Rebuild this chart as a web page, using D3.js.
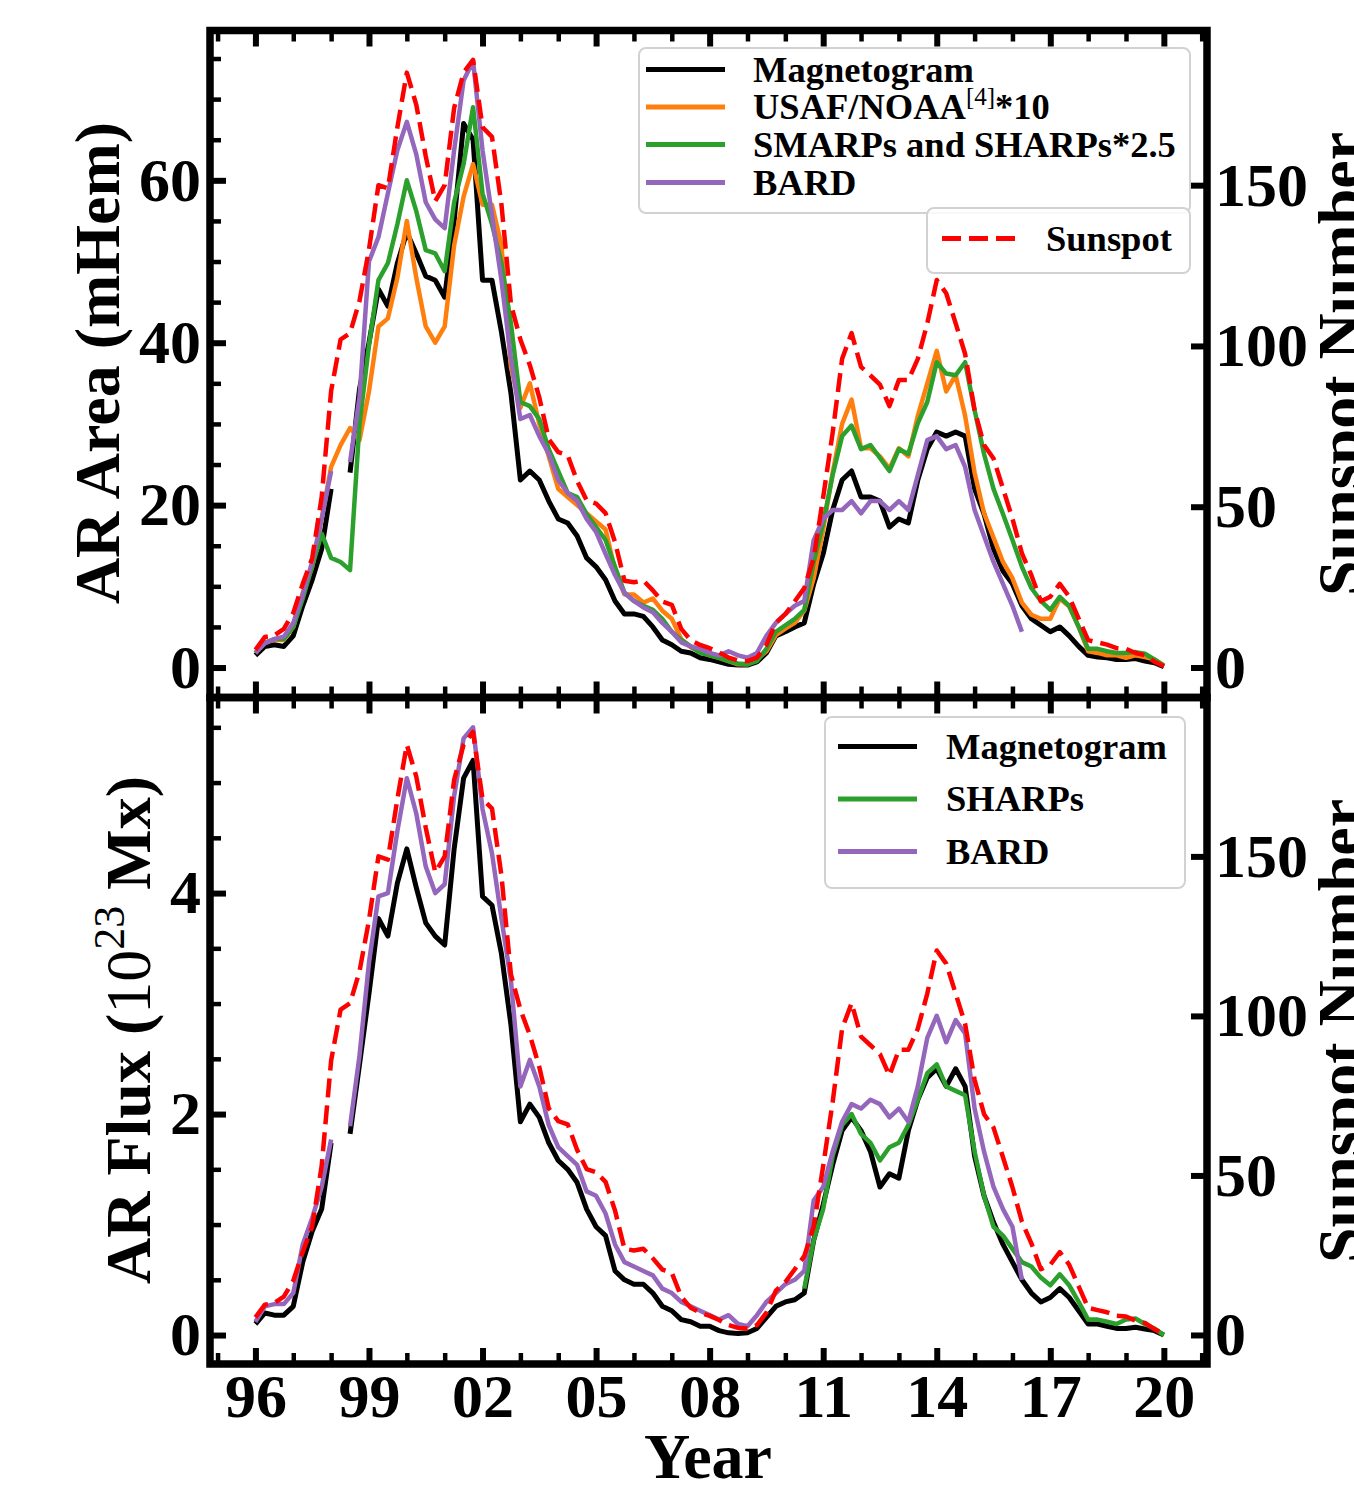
<!DOCTYPE html>
<html>
<head>
<meta charset="utf-8">
<script src="https://cdn.jsdelivr.net/npm/d3@7"></script>
<style>
body { margin: 0; background: #fff; }
text { font-family: "Liberation Serif", "Times New Roman", serif; font-weight: bold; fill: #000; }
.tick text { font-size: 62px; }
.reg { font-weight: normal; }
</style>
</head>
<body>
<script>
// quarter-year sampling, 1996.0 .. 2020.0
const years = d3.range(97).map(i => 1996 + i / 4);

// sunspot number (right axes, both panels)
const sunspot = [
  5.5, 9.5, 10, 12,
  17, 26, 34, 53,
  86, 102, 104, 114,
  130, 150, 149, 168,
  185, 175, 159, 145,
  150, 174, 185, 189,
  168, 165, 144, 113,
  102, 94, 84, 71,
  67, 66, 58, 52,
  51, 48, 39, 27,
  26.5, 27, 24, 20.5,
  19.5, 12, 8.5, 7,
  6, 4.7, 3.1, 2.2,
  2, 3.1, 7, 13.9,
  16.6, 20.6, 24.7, 34,
  53, 73, 96, 104,
  93.5, 90.8, 88, 81.3,
  89.4, 89.4, 96, 107,
  120.5, 116.4, 107, 97.5,
  80, 69.2, 65, 55.7,
  46.3, 35.5, 28.7, 20.6,
  22, 26, 22, 15.2,
  8.5, 7.8, 7.1, 6,
  5.8, 4.5, 3.8, 1.8,
  0.4
];

// AR area (mHem)
const areaMag = [
  1.5, 2.6, 2.8, 2.6,
  3.9, 7.6, 10.8, 14.6,
  22, null, 24, 34.3,
  40, 46.6, 44.5, 49.8,
  53.6, 51, 48.2, 47.7,
  45.6, 55, 67, 65,
  47.7, 47.7, 41.3, 33.8,
  23.1, 24.2, 23.1, 20.5,
  18.3, 17.8, 16.2, 13.5,
  12.4, 10.8, 8.2, 6.6,
  6.6, 6.3, 5, 3.4,
  2.8, 2, 1.8, 1.2,
  1, 0.7, 0.4, 0.3,
  0.3, 0.7, 1.8, 3.9,
  4.4, 5, 5.5, 10.3,
  14, 19.4, 23.1, 24.2,
  21, 21, 20.5, 17.3,
  18.3, 17.8, 23.1, 26.9,
  29, 28.5, 29, 28.5,
  22, 18.9, 14.6, 11.9,
  10.3, 7.6, 6, 5.2,
  4.4, 5, 3.9, 2.6,
  1.5, 1.3, 1.2, 1,
  1, 1.1, 0.8, 0.6,
  0.1
];

const areaNoaa = [
  1.8, 3.1, 3.4, 3.4,
  5, 9.2, 12.4, 18.3,
  24.7, 27.4, 29.5, 28,
  34, 42, 43, 48,
  55, 48, 42, 40,
  42, 52, 58, 62,
  57, 57, 52, 37,
  32, 35, 30, 26,
  22, 21, 20, 19,
  18, 17, 12, 9,
  9, 8, 8.5, 7,
  6, 3.5, 2.5, 2,
  1.5, 1.2, 0.8, 0.4,
  0.4, 1, 2, 4,
  4.8, 5.5, 7, 11,
  17, 24, 30, 33,
  27, 27, 26, 24.5,
  27, 26, 31, 35,
  39, 34, 36, 31,
  24, 19, 16, 13,
  11, 8, 6.5, 6,
  6, 8.5, 7.5, 5,
  2, 1.8, 1.5, 1.5,
  1.2, 1.5, 1.3, 1,
  0.3
];

const areaSmarps = [
  1.8, 3, 3.5, 3.5,
  5, 8.5, 12.5, 16.5,
  13.5, 13, 12, 30,
  39.7, 47.7, 49.8, 54.6,
  60, 56.2, 51.4, 51,
  48.8, 57.3, 62, 69,
  58.4, 54.6, 49.8, 42.4,
  32.7, 32.2, 30.6, 26.9,
  24.2, 21.5, 21, 18.9,
  17.3, 15.7, 12.4, 9.2,
  8.2, 7.6, 7.1, 6,
  4.4, 3.4, 2.6, 1.8,
  1.5, 1.2, 0.8, 0.5,
  0.4, 0.8, 2.3, 4.4,
  5.2, 6, 7.1, 13,
  17.8, 23.7, 28.5, 29.8,
  26.9, 27.4, 25.8, 24.2,
  26.9, 26.3, 30.1, 32.7,
  37.6, 36.2, 36, 37.6,
  31.7, 26.3, 22, 18.9,
  15.7, 12.4, 9.8, 8.2,
  7.1, 8.7, 7.6, 5,
  2.3, 2.3, 2, 1.8,
  1.8, 1.9, 1.7, 1,
  0.2
];

// BARD stops at 2016.25
const areaBard = [
  1.8, 3, 3.5, 3.8,
  5.5, 9, 13, 18.3,
  24.2, null, 25.3, 33.3,
  50, 53, 58.4, 63.7,
  67.2, 63.2, 57.3, 55.2,
  54.1, 63.7, 72.3, 74.7,
  63.7, 55.7, 47.7, 38.1,
  30.6, 31.1, 28.5, 26.3,
  23.1, 21.5, 20.5, 18.3,
  16.7, 14, 11.4, 9.2,
  8.2, 7.4, 6.8, 5.5,
  4.4, 3.1, 2.6, 2.3,
  1.8, 1.5, 2, 1.5,
  1.2, 1.8, 3.9, 5.5,
  6.6, 7.6, 8.2, 15.7,
  18.3, 19.4, 19.4, 20.5,
  19, 20.5, 20.5, 19.4,
  20.5, 19.4, 23.7, 28,
  28.5, 26.9, 27.4, 24.7,
  19.4, 16.2, 13, 10.3,
  7.6, 4.4
];

// AR flux (1e23 Mx)
const fluxMag = [
  0.1, 0.2, 0.18, 0.18,
  0.26, 0.66, 0.94, 1.14,
  1.74, null, 1.82, 2.45,
  3.09, 3.77, 3.61, 4.09,
  4.4, 4.05, 3.73, 3.61,
  3.53, 4.4, 5.04, 5.2,
  3.97, 3.89, 3.45, 2.81,
  1.93, 2.09, 1.97, 1.74,
  1.58, 1.5, 1.38, 1.14,
  0.98, 0.9, 0.58, 0.5,
  0.46, 0.46, 0.38, 0.26,
  0.22, 0.14, 0.12, 0.08,
  0.08, 0.04, 0.02, 0.015,
  0.02, 0.06, 0.16, 0.26,
  0.3, 0.32, 0.38, 0.86,
  1.18, 1.54, 1.85, 1.97,
  1.85, 1.66, 1.34, 1.46,
  1.42, 1.85, 2.13, 2.33,
  2.41, 2.25, 2.41, 2.25,
  1.62, 1.26, 1.02, 0.82,
  0.66, 0.5, 0.38, 0.3,
  0.34, 0.42, 0.34, 0.22,
  0.1, 0.1, 0.08, 0.06,
  0.06, 0.07, 0.055, 0.04,
  0
];

// SHARPs starts at 2010.5
const fluxSharps = [
  0.42, 0.86,
  1.14, 1.62, 1.9, 2,
  1.82, 1.74, 1.58, 1.7,
  1.74, 1.9, 2.13, 2.37,
  2.45, 2.25, 2.21, 2.17,
  1.66, 1.26, 0.98, 0.9,
  0.78, 0.66, 0.62, 0.52,
  0.45, 0.55, 0.45, 0.3,
  0.14, 0.14, 0.12, 0.1,
  0.14, 0.15, 0.1, 0.06,
  0
];

const fluxBard = [
  0.12, 0.26, 0.28, 0.28,
  0.38, 0.82, 1.06, 1.34,
  1.77, null, 1.89, 2.53,
  3.37, 3.97, 4, 4.56,
  5.04, 4.72, 4.24, 4,
  4.08, 4.88, 5.4, 5.5,
  4.76, 4.36, 3.77, 3.21,
  2.25, 2.49, 2.25, 1.9,
  1.7, 1.62, 1.54, 1.3,
  1.26, 1.1, 0.82, 0.66,
  0.62, 0.58, 0.54, 0.42,
  0.38, 0.3, 0.26, 0.22,
  0.18, 0.14, 0.18, 0.1,
  0.08, 0.18, 0.3, 0.38,
  0.46, 0.5, 0.58, 1.22,
  1.34, 1.66, 1.93, 2.09,
  2.05, 2.13, 2.09, 1.97,
  2.05, 1.93, 2.25, 2.69,
  2.89, 2.65, 2.85, 2.73,
  2.05, 1.66, 1.34, 1.14,
  0.98, 0.5
];

const xMajor = [1996, 1999, 2002, 2005, 2008, 2011, 2014, 2017, 2020];
const xMinor = d3.range(1995, 2022);

function pair(vals, startYear) {
  const i0 = years.indexOf(startYear);
  return vals.map((v, i) => [years[i0 + i], v]);
}

const W = 1354, H = 1487;
const L = 210, R = 1207;
const C = { black: "#000", orange: "#ff7f0e", green: "#2ca02c", purple: "#9467bd", red: "#ff0000" };

const svg = d3.select("body").append("svg").attr("width", W).attr("height", H);
const x = d3.scaleLinear().domain([1994.8, 2021.14]).range([L, R]);

function panel(o) {
  const g = svg.append("g");
  const yL = d3.scaleLinear().domain(o.leftDomain).range([o.bottom, o.top]);
  const yR = d3.scaleLinear().domain(o.rightDomain).range([o.bottom, o.top]);

  const clipId = "clip" + o.id;
  svg.append("clipPath").attr("id", clipId)
    .append("rect").attr("x", L).attr("y", o.top).attr("width", R - L).attr("height", o.bottom - o.top);

  const lines = g.append("g").attr("clip-path", `url(#${clipId})`);
  for (const s of o.series) {
    const ys = s.right ? yR : yL;
    lines.append("path")
      .datum(pair(s.values, s.start || 1996))
      .attr("fill", "none")
      .attr("stroke", s.color)
      .attr("stroke-width", s.width || 4.5)
      .attr("stroke-dasharray", s.dash || null)
      .attr("stroke-linejoin", "round")
      .attr("d", d3.line().defined(d => d[1] != null).x(d => x(d[0])).y(d => ys(d[1])));
  }

  const axes = [
    d3.axisLeft(yL).tickValues(o.leftMajor).tickSize(-16).tickPadding(9).tickFormat(o.leftFormat),
    d3.axisLeft(yL).tickValues(o.leftMinor).tickSize(-11).tickFormat(""),
  ];
  for (const a of axes) {
    g.append("g").attr("transform", `translate(${L},0)`).call(a);
  }
  g.append("g").attr("transform", `translate(${R},0)`)
    .call(d3.axisRight(yR).tickValues([0, 50, 100, 150]).tickSize(-16).tickPadding(8).tickFormat(d3.format("d")));

  g.append("g").attr("transform", `translate(0,${o.top})`)
    .call(d3.axisTop(x).tickValues(xMajor).tickSize(-16).tickFormat(""));
  g.append("g").attr("transform", `translate(0,${o.top})`)
    .call(d3.axisTop(x).tickValues(xMinor).tickSize(-11).tickFormat(""));
  g.append("g").attr("transform", `translate(0,${o.bottom})`)
    .call(d3.axisBottom(x).tickValues(xMajor).tickSize(-16).tickPadding(9)
      .tickFormat(o.xLabels ? (d => String(d % 100).padStart(2, "0")) : ""));
  g.append("g").attr("transform", `translate(0,${o.bottom})`)
    .call(d3.axisBottom(x).tickValues(xMinor).tickSize(-11).tickFormat(""));

  g.selectAll(".domain").remove();
  g.selectAll(".tick line").attr("stroke", "#000").attr("stroke-width", function () {
    return Math.abs(+d3.select(this).attr("x2") || +d3.select(this).attr("y2")) > 12 ? 6 : 4.5;
  });
  g.selectAll("g").attr("font-size", null).attr("font-family", null);

  g.append("rect").attr("x", L).attr("y", o.top).attr("width", R - L).attr("height", o.bottom - o.top)
    .attr("fill", "none").attr("stroke", "#000").attr("stroke-width", 7.5);

  return g;
}

function legend(o) {
  const g = svg.append("g");
  g.append("rect").attr("x", o.x).attr("y", o.y).attr("width", o.w).attr("height", o.h)
    .attr("rx", 7).attr("fill", "#fff").attr("fill-opacity", 0.85)
    .attr("stroke", "#d2d2d2").attr("stroke-width", 2);
  o.items.forEach((it, i) => {
    const cy = o.rowY[i];
    g.append("line").attr("x1", o.lx0).attr("x2", o.lx1).attr("y1", cy).attr("y2", cy)
      .attr("stroke", it.color).attr("stroke-width", 5).attr("stroke-dasharray", it.dash || null);
    const t = g.append("text").attr("x", o.tx).attr("y", cy + 12).attr("font-size", 36.5);
    t.append("tspan").text(it.label);
    if (it.sup) {
      t.append("tspan").attr("class", "reg").attr("font-size", 25).attr("dy", -14).text(it.sup);
      t.append("tspan").attr("dy", 14).text(it.after);
    }
  });
}

panel({
  id: 1, top: 30.5, bottom: 697.5,
  leftDomain: [-3.69, 78.45], rightDomain: [-9.33, 198.1],
  leftMajor: [0, 20, 40, 60], leftMinor: d3.range(0, 80, 5), leftFormat: d3.format("d"),
  xLabels: false,
  series: [
    { values: areaMag, color: C.black, width: 5 },
    { values: areaNoaa, color: C.orange },
    { values: areaSmarps, color: C.green },
    { values: areaBard, color: C.purple },
    { values: sunspot, color: C.red, dash: "19,8", right: true },
  ],
});

panel({
  id: 2, top: 697.5, bottom: 1364,
  leftDomain: [-0.262, 5.77], rightDomain: [-9.1, 199.8],
  leftMajor: [0, 2, 4], leftMinor: d3.range(0, 6, 0.5), leftFormat: d3.format("d"),
  xLabels: true,
  series: [
    { values: fluxMag, color: C.black, width: 5 },
    { values: fluxSharps, color: C.green, start: 2010.5 },
    { values: fluxBard, color: C.purple },
    { values: sunspot, color: C.red, dash: "19,8", right: true },
  ],
});

legend({
  x: 639, y: 48, w: 551, h: 165, lx0: 646, lx1: 725, tx: 753,
  rowY: [69.5, 107, 144.5, 182.5],
  items: [
    { label: "Magnetogram", color: C.black },
    { label: "USAF/NOAA", sup: "[4]", after: "*10", color: C.orange },
    { label: "SMARPs and SHARPs*2.5", color: C.green },
    { label: "BARD", color: C.purple },
  ],
});
legend({
  x: 927, y: 208, w: 263, h: 65, lx0: 942, lx1: 1016, tx: 1046,
  rowY: [238.5],
  items: [{ label: "Sunspot", color: C.red, dash: "19,8" }],
});
legend({
  x: 825, y: 717, w: 360, h: 171, lx0: 838, lx1: 917, tx: 946,
  rowY: [746.5, 799, 851.5],
  items: [
    { label: "Magnetogram", color: C.black },
    { label: "SHARPs", color: C.green },
    { label: "BARD", color: C.purple },
  ],
});

// axis titles
svg.append("text").attr("transform", "translate(119,363) rotate(-90)")
  .attr("text-anchor", "middle").attr("font-size", 64).text("AR Area (mHem)");

const fl = svg.append("text").attr("transform", "translate(150,1030) rotate(-90)")
  .attr("text-anchor", "middle").attr("font-size", 64);
fl.append("tspan").text("AR Flux (");
fl.append("tspan").attr("class", "reg").text("10");
fl.append("tspan").attr("class", "reg").attr("font-size", 44).attr("dy", -26).text("23");
fl.append("tspan").attr("dy", 26).text(" Mx)");

for (const cy of [364, 1031]) {
  svg.append("text").attr("transform", `translate(1362,${cy}) rotate(-90)`)
    .attr("text-anchor", "middle").attr("font-size", 64).text("Sunspot Number");
}

svg.append("text").attr("x", 708).attr("y", 1478).attr("text-anchor", "middle")
  .attr("font-size", 64).text("Year");
</script>
</body>
</html>
